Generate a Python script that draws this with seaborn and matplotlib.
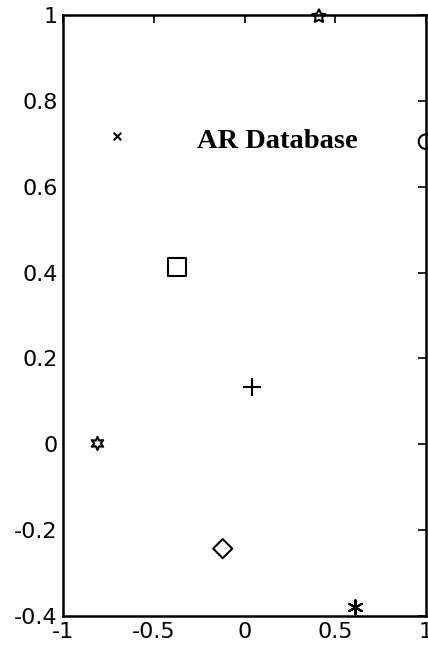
import matplotlib
matplotlib.use("Agg")
import matplotlib.pyplot as plt
import seaborn as sns
import pandas as pd

# Data
xs = [0.41, -0.705, 1.0, -0.37, 0.04, -0.81, -0.12, 0.61]
ys = [0.997, 0.717, 0.705, 0.413, 0.133, 0.002, -0.243, -0.378]
markers = [(5, 1, 0), "x", "o", "s", "+", (6, 1, 0), "D", (6, 2, 0)]
sizes = [100, 30, 110, 170, 150, 90, 95, 110]
filled = [True, False, True, True, False, True, True, False]
label_text = "AR Database"
label_pos = (-0.26, 0.705)
xticks = [-1, -0.5, 0, 0.5, 1]
xticklabels = ["-1", "-0.5", "0", "0.5", "1"]
yticks = [-0.4, -0.2, 0, 0.2, 0.4, 0.6, 0.8, 1]
yticklabels = ["-0.4", "-0.2", "0", "0.2", "0.4", "0.6", "0.8", "1"]

sns.set_theme(style="white")
plt.rcParams['font.family'] = ['DejaVu Sans']

fig = plt.figure(figsize=(4.28, 6.49), dpi=100)
ax = fig.add_axes([63/428, 33/649, (426-63)/428, (616-15)/649])

for x, y, m, s, f in zip(xs, ys, markers, sizes, filled):
    df = pd.DataFrame({"x": [x], "y": [y]})
    if f:
        sns.scatterplot(data=df, x="x", y="y", marker=m, s=s, ax=ax,
                        facecolors="none", edgecolor="black", linewidth=1.5,
                        clip_on=False, zorder=5)
    else:
        sns.scatterplot(data=df, x="x", y="y", marker=m, s=s, ax=ax,
                        color="black", linewidth=1.5, clip_on=False, zorder=5)

ax.text(label_pos[0], label_pos[1], label_text, fontsize=20.5, fontweight="bold",
        color="black", family=["Liberation Serif", "DejaVu Serif"],
        va="center", ha="left")

ax.set_xlim(-1, 1)
ax.set_ylim(-0.4, 1)
ax.set_xticks(xticks)
ax.set_xticklabels(xticklabels)
ax.set_yticks(yticks)
ax.set_yticklabels(yticklabels)
ax.set_xlabel("")
ax.set_ylabel("")
ax.tick_params(direction="in", length=6, width=1.2, top=True, right=True,
               labelsize=16, colors="black", pad=4)
for sp in ax.spines.values():
    sp.set_visible(True)
    sp.set_color("black")
    sp.set_linewidth(1.8)

fig.savefig("out.png", dpi=100)
